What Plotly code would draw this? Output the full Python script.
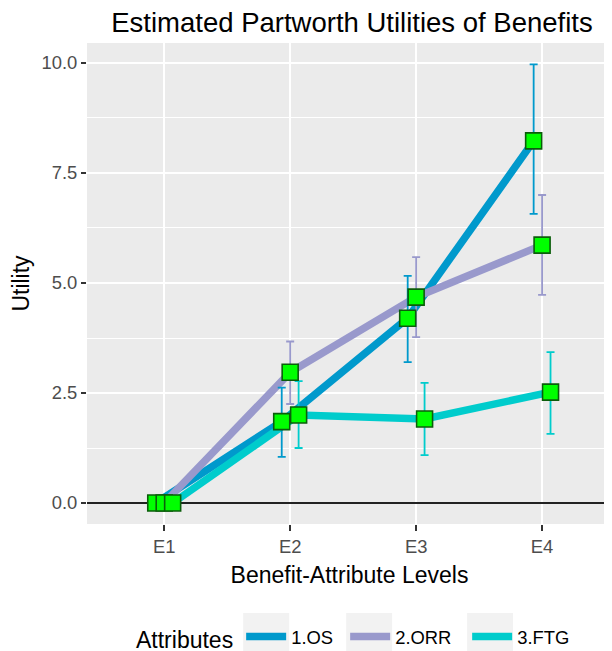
import plotly.graph_objects as go

# ---- data ----
levels = ["E1", "E2", "E3", "E4"]
attributes = ["1.OS", "2.ORR", "3.FTG"]

os_util = [0.0, 1.85, 4.20, 8.23]
os_lo = [0.0, 1.05, 3.20, 6.57]
os_hi = [0.0, 2.62, 5.16, 9.97]

orr_util = [0.0, 2.97, 4.68, 5.86]
orr_lo = [0.0, 2.25, 3.77, 4.73]
orr_hi = [0.0, 3.67, 5.59, 7.00]

ftg_util = [0.0, 2.00, 1.91, 2.52]
ftg_lo = [0.0, 1.25, 1.09, 1.57]
ftg_hi = [0.0, 2.77, 2.73, 3.43]

y_ticks = [0.0, 2.5, 5.0, 7.5, 10.0]
y_ticktext = ["0.0", "2.5", "5.0", "7.5", "10.0"]

# ---- style ----
colors = ["#0099CC", "#9999CC", "#00CCCC"]
dodge = [-0.067, 0.0, 0.067]
legend_widths = [49, 67, 60]
FONT = "Liberation Sans, Arial, sans-serif"

series = [
    (os_util, os_lo, os_hi),
    (orr_util, orr_lo, orr_hi),
    (ftg_util, ftg_lo, ftg_hi),
]

# the page body adds an 8px offset; the figure is sized to fill the window
OFF = 8
W, H = 612 - OFF, 651 - OFF
ML, MR, MT, MB = 86.7 - OFF, 0, 42.7 - OFF, 651 - 524

fig = go.Figure()

xs_all = []
for i, (name, (u, lo, hi)) in enumerate(zip(attributes, series)):
    xs = [k + dodge[i] for k in range(len(levels))]
    xs_all.append(xs)
    fig.add_trace(go.Scatter(
        x=xs, y=u, mode="lines", name=name,
        line=dict(color=colors[i], width=7.5),
        showlegend=True, hoverinfo="skip",
        legendwidth=legend_widths[i],
    ))

for i, (name, (u, lo, hi)) in enumerate(zip(attributes, series)):
    fig.add_trace(go.Scatter(
        x=xs_all[i], y=u, mode="markers", showlegend=False,
        marker=dict(size=1, color="rgba(0,0,0,0)"),
        error_y=dict(type="data", symmetric=False,
                     array=[h - v for h, v in zip(hi, u)],
                     arrayminus=[v - l for v, l in zip(u, lo)],
                     color=colors[i], thickness=1.8, width=4),
        hoverinfo="skip",
    ))

for i, (name, (u, lo, hi)) in enumerate(zip(attributes, series)):
    fig.add_trace(go.Scatter(
        x=xs_all[i], y=u, mode="markers", showlegend=False,
        marker=dict(symbol="square", size=16, color="#00FF00",
                    line=dict(color="#0B5D0B", width=1.6)),
        hoverinfo="skip",
    ))

plot_w = W - ML - MR
plot_h = H - MT - MB


def px_to_paper(x, y):
    # x, y are window pixels
    return (x - OFF - ML) / plot_w, (H - MB - (y - OFF)) / plot_h


shapes = []
# grey legend key backgrounds (decoration)
for x0 in [243, 346, 467]:
    a0, b0 = px_to_paper(x0, 613)
    a1, b1 = px_to_paper(x0 + 46, 660)
    shapes.append(dict(type="rect", xref="paper", yref="paper",
                       x0=a0, x1=a1, y0=b1, y1=b0,
                       fillcolor="#F2F2F2", line=dict(width=0), layer="below"))

fig.update_layout(
    width=W, height=H,
    margin=dict(l=ML, r=MR, t=MT, b=MB, autoexpand=False),
    paper_bgcolor="white",
    plot_bgcolor="#EBEBEB",
    font=dict(family=FONT, color="#000000"),
    title=dict(text="Estimated Partworth Utilities of Benefits",
               font=dict(size=27.5, color="#000000", family=FONT),
               x=(352 - OFF) / W, xref="container", xanchor="center",
               y=1 - (22 - OFF) / H, yref="container", yanchor="middle"),
    xaxis=dict(
        range=[-0.613, 3.555],
        tickmode="array", tickvals=list(range(len(levels))), ticktext=levels,
        showgrid=True, gridcolor="white", gridwidth=2,
        zeroline=False, showline=False,
        ticks="outside", ticklen=6, tickwidth=1.6, tickcolor="#333333",
        tickfont=dict(size=18.4, color="#4D4D4D", family=FONT),
        title=dict(text="Benefit-Attribute Levels",
                   font=dict(size=23, color="#000000", family=FONT),
                   standoff=10),
        fixedrange=True,
    ),
    yaxis=dict(
        range=[-0.477, 10.454],
        tickmode="array", tickvals=y_ticks, ticktext=y_ticktext,
        showgrid=True, gridcolor="white", gridwidth=2,
        minor=dict(dtick=1.25, tick0=0, showgrid=True, gridcolor="white",
                   gridwidth=1.2, ticks=""),
        zeroline=True, zerolinecolor="#222222", zerolinewidth=2,
        showline=False,
        ticks="outside", ticklen=5, tickwidth=1.6, tickcolor="#333333",
        tickfont=dict(size=18.4, color="#4D4D4D", family=FONT),
        title=dict(text="Utility",
                   font=dict(size=23, color="#000000", family=FONT),
                   standoff=6),
        fixedrange=True,
    ),
    legend=dict(
        orientation="h",
        title=dict(text="Attributes", side="left",
                   font=dict(size=23, color="#000000", family=FONT)),
        font=dict(size=18.4, color="#000000", family=FONT),
        x=(134 - OFF) / W, xref="container", xanchor="left",
        y=1 - (638 - OFF) / H, yref="container", yanchor="middle",
        bgcolor="rgba(0,0,0,0)",
        itemwidth=40,
    ),
    shapes=shapes,
    showlegend=True,
)

fig.write_html("out.html")
